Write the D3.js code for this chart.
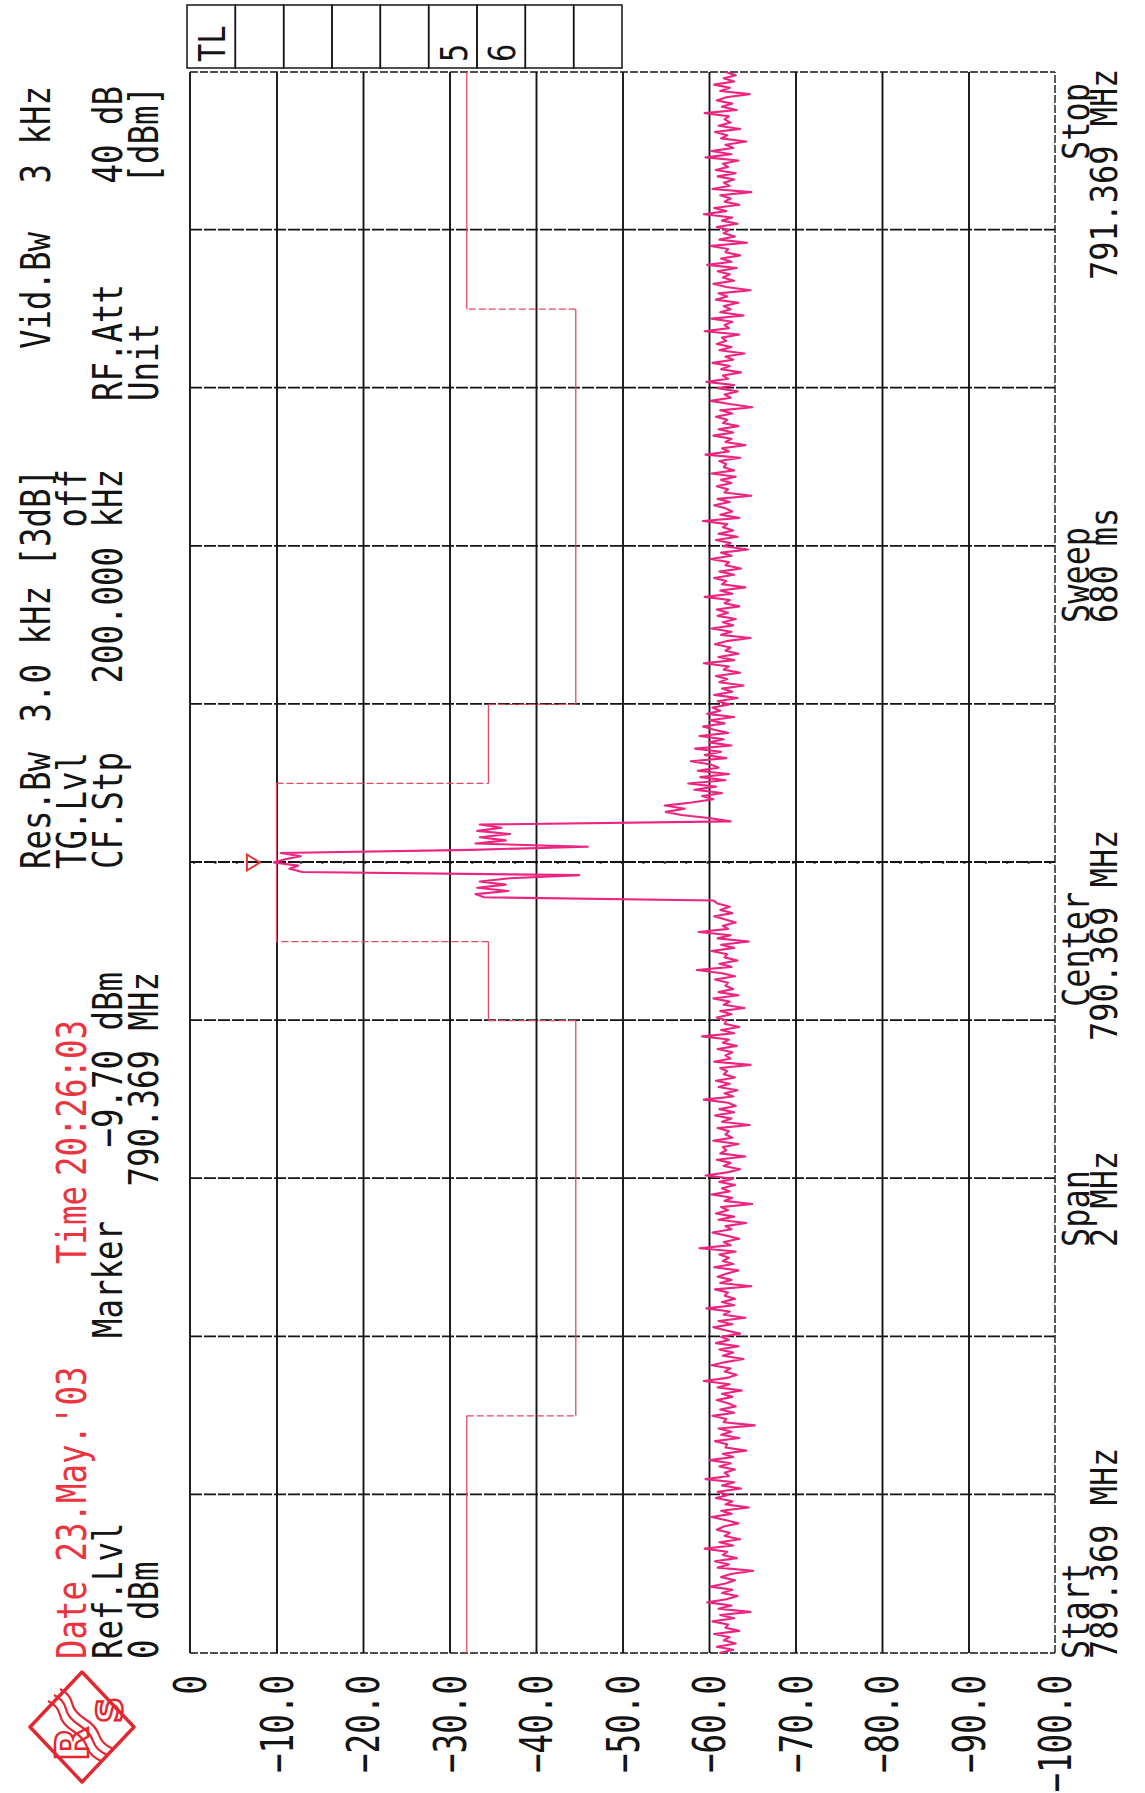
<!DOCTYPE html>
<html>
<head>
<meta charset="utf-8">
<script src="https://cdn.jsdelivr.net/npm/d3@7"></script>
<style>
  html, body { margin: 0; padding: 0; background: #ffffff; }
  svg { display: block; }
</style>
</head>
<body>
<svg id="chart" width="1145" height="1793"></svg>
<script>
// ---- analyzer settings ----
const startMHz = 789.369;
const stopMHz = 791.369;
const centerMHz = 790.369;
const freqDivisions = 10;

// ---- level axis ----
const levelTicks = [0, -10, -20, -30, -40, -50, -60, -70, -80, -90, -100];
const levelTickLabels = ["0", "\u221210.0", "\u221220.0", "\u221230.0", "\u221240.0", "\u221250.0",
  "\u221260.0", "\u221270.0", "\u221280.0", "\u221290.0", "\u2212100.0"];

// ---- limit line (step edges in MHz, level per step in dBm) ----
const limitEdgesMHz = [789.369, 789.669, 790.169, 790.269, 790.469, 790.569, 791.069, 791.369];
const limitDbm = [-32.0, -44.6, -34.5, -10.0, -34.5, -44.6, -32.0];

// ---- marker ----
const markerMHz = 790.369;
const markerDbm = -9.70;

// ---- trace, 501 sweep points in dBm ----
const traceDbm = [
  -61.2,-62.8,-60.9,-63.1,-61.7,-62.4,-60.6,-63.5,-61.9,-62.2,
  -60.4,-62.9,-61.3,-64.8,-61.1,-62.6,-59.8,-62.0,-63.3,-61.5,
  -62.7,-60.2,-61.9,-63.0,-61.4,-62.5,-65.1,-61.0,-62.3,-60.7,
  -63.2,-61.6,-62.1,-59.5,-62.8,-61.2,-63.6,-61.8,-62.4,-60.9,
  -61.7,-63.4,-62.0,-60.3,-62.6,-61.4,-64.6,-61.9,-62.7,-60.8,
  -62.2,-61.0,-63.7,-61.5,-62.9,-59.6,-62.3,-61.8,-63.0,-61.2,
  -62.5,-60.1,-62.8,-61.6,-64.3,-61.9,-62.1,-60.7,-63.5,-61.4,
  -62.6,-61.1,-65.3,-61.7,-62.0,-60.4,-62.9,-61.3,-63.1,-62.2,
  -60.9,-62.7,-61.5,-63.8,-61.0,-62.4,-59.4,-62.1,-63.2,-61.8,
  -62.5,-60.3,-61.9,-64.0,-61.6,-62.8,-61.2,-63.4,-60.8,-62.3,
  -61.4,-63.6,-62.0,-60.5,-62.7,-61.1,-64.2,-61.7,-62.4,-59.7,
  -62.9,-61.5,-63.0,-61.8,-62.2,-60.7,-64.9,-61.3,-62.6,-61.0,
  -62.1,-63.4,-60.6,-62.8,-61.6,-62.3,-61.2,-63.1,-58.9,-62.5,
  -61.7,-63.5,-62.0,-60.4,-62.6,-61.9,-64.3,-61.1,-62.9,-60.8,
  -62.2,-61.4,-65.0,-61.8,-62.7,-60.3,-62.4,-61.5,-63.0,-61.2,
  -62.8,-59.6,-62.1,-63.6,-61.7,-62.5,-60.9,-64.2,-61.3,-62.0,
  -61.6,-63.4,-60.5,-62.7,-61.9,-62.3,-61.0,-64.7,-61.5,-62.6,
  -60.7,-62.9,-61.2,-63.1,-62.2,-59.4,-62.8,-61.8,-63.3,-61.1,
  -62.4,-60.8,-63.0,-61.7,-62.1,-61.3,-64.8,-60.6,-62.5,-61.9,
  -62.7,-61.0,-63.2,-61.6,-62.3,-59.2,-62.9,-61.4,-63.5,-61.8,
  -62.0,-60.9,-62.6,-61.3,-64.1,-61.7,-62.4,-60.5,-63.4,-61.1,
  -62.8,-61.9,-62.2,-60.7,-63.0,-61.5,-58.6,-62.6,-61.2,-63.3,
  -61.8,-62.1,-60.3,-62.9,-61.4,-64.6,-61.0,-62.5,-58.8,-62.2,
  -61.6,-63.1,-61.9,-60.6,-62.7,-61.3,-62.4,-61.0,-60.5,
  -34.0,-33.0,-36.8,-33.2,-36.5,-33.5,-37.0,-45.0,
  -13.0,-11.5,-12.5,-9.70,-11.0,-12.8,-10.5,
  -32.5,-46.0,-33.0,-36.5,-33.5,-37.0,-33.2,-36.0,-33.5,
  -62.5,-60.2,-56.8,-55.0,-57.2,-54.9,-58.0,-60.5,
  -59.2,-61.5,-58.3,-60.8,-57.6,-61.9,-59.0,-62.3,-58.7,-61.1,
  -60.2,-57.9,-62.0,-59.5,-61.4,-58.4,-62.6,-60.0,-61.7,-58.9,
  -62.2,-60.6,-59.3,-61.8,-60.1,-62.9,-59.8,-61.3,-60.4,
  -62.4,-61.0,-63.3,-60.6,-62.7,-61.5,-64.0,-61.2,-62.1,-60.8,
  -63.6,-61.7,-62.3,-59.4,-62.9,-61.1,-63.4,-61.9,-62.5,-60.7,
  -62.0,-64.8,-61.4,-62.6,-60.3,-62.8,-61.6,-63.1,-61.0,-62.2,
  -60.9,-63.5,-61.8,-62.4,-59.5,-62.7,-61.3,-64.2,-61.5,-62.0,
  -60.6,-62.9,-61.2,-63.7,-61.9,-62.3,-60.2,-62.6,-61.4,-64.5,
  -61.7,-62.5,-60.8,-63.3,-61.1,-62.8,-61.6,-62.1,-59.3,-63.5,
  -61.3,-62.7,-61.9,-60.6,-62.4,-61.0,-64.9,-61.8,-62.2,-60.9,
  -62.6,-61.4,-63.1,-60.3,-62.9,-61.7,-62.0,-61.2,-63.6,-59.6,
  -62.3,-61.5,-64.2,-61.9,-62.6,-60.5,-62.8,-61.1,-63.4,-61.6,
  -62.1,-60.8,-62.7,-61.3,-65.0,-62.4,-60.2,-62.5,-61.8,-63.3,
  -61.0,-62.9,-59.7,-62.2,-61.6,-63.7,-61.4,-62.4,-60.4,-62.8,
  -61.9,-64.1,-61.2,-62.6,-60.9,-62.0,-61.5,-63.5,-59.5,-62.3,
  -61.8,-62.7,-60.3,-64.0,-61.3,-62.5,-61.7,-63.4,-60.8,-62.1,
  -61.1,-64.8,-62.0,-60.5,-62.9,-61.6,-62.4,-61.0,-63.2,-59.8,
  -62.6,-61.4,-63.6,-61.9,-62.2,-60.2,-64.4,-61.2,-63.0,-61.7,
  -62.3,-60.9,-63.3,-61.5,-62.7,-59.4,-62.0,-60.6,-63.5,-61.8,
  -62.5,-61.3,-64.9,-60.4,-62.4,-61.7,-62.9,-61.0,-63.1,-60.8,
  -62.2,-61.6,-63.4,-59.6,-62.6,-60.3,-62.8,-61.9,-64.3,-61.4,
  -62.1,-60.7,-63.6,-61.1,-62.5,-61.8,-62.3,-59.5,-63.2,-61.5,
  -62.7,-60.9,-62.0,-64.7,-61.3,-62.4,-60.6,-62.9,-61.7,-63.1,
  -61.9
];

// ---- header and footer annotation (row 0 is the outermost line) ----
const headerRed = [
  { text: "Date 23.May.'03", x: 134, row: 1 },
  { text: "Time", x: 529, row: 1 },
  { text: "20:26:03", x: 617, row: 1 }
];
const headerLeft = [
  { text: "Ref.Lvl", x: 134, row: 2 },
  { text: "0 dBm", x: 134, row: 3 },
  { text: "Marker", x: 455, row: 2 },
  { text: "Res.Bw", x: 924, row: 0 },
  { text: "TG.Lvl", x: 924, row: 1 },
  { text: "CF.Stp", x: 924, row: 2 },
  { text: "Vid.Bw", x: 1444, row: 0 },
  { text: "RF.Att", x: 1392, row: 2 },
  { text: "Unit", x: 1392, row: 3 }
];
const headerRight = [
  { text: "\u22129.70 dBm", x: 821, row: 2 },
  { text: "790.369 MHz", x: 821, row: 3 },
  { text: "3.0 kHz [3dB]", x: 1324, row: 0 },
  { text: "off", x: 1324, row: 1 },
  { text: "200.000 kHz", x: 1324, row: 2 },
  { text: "3 kHz", x: 1707, row: 0 },
  { text: "40 dB", x: 1707, row: 2 },
  { text: "[dBm]", x: 1707, row: 3 }
];
const footer = [
  { text: "Start", x: 134, row: 0 },
  { text: "789.369 MHz", x: 134, row: 1 },
  { text: "Span", x: 546, row: 0 },
  { text: "2 MHz", x: 546, row: 1 },
  { text: "Center", x: 786, row: 0 },
  { text: "790.369 MHz", x: 752, row: 1 },
  { text: "Sweep", x: 1170, row: 0 },
  { text: "680 ms", x: 1170, row: 1 },
  { text: "Stop", x: 1633, row: 0 },
  { text: "791.369 MHz", x: 1513, row: 1 }
];
const limitTableCells = ["TL", "", "", "", "", "5", "6", "", ""];

// ---- drawing ----
// The printout is laid out landscape and turned a quarter turn on the page.
const PAGE_H = 1793;
const svg = d3.select("#chart");
svg.append("rect").attr("width", 1145).attr("height", 1793).attr("fill", "#ffffff");
const page = svg.append("g").attr("transform", `translate(0,${PAGE_H}) rotate(-90)`);

const X0 = 140, X1 = 1721, Y0 = 190, Y1 = 1055;
const x = d3.scaleLinear().domain([startMHz, stopMHz]).range([X0, X1]);
const y = d3.scaleLinear().domain([0, -100]).range([Y0, Y1]);

const INK = "#141414";
const RED_TEXT = "#ec3440";
const TRACE = "#ec2580";
const LIMIT = "#e24a62";
const FONT = "'DejaVu Sans Mono', 'Liberation Mono', monospace";

function label(g, txt, px, py, opt) {
  const o = Object.assign({ size: 41, sx: 0.79, anchor: "start", fill: INK }, opt || {});
  g.append("text")
    .attr("transform", `translate(${px},${py}) scale(${o.sx},1)`)
    .attr("text-anchor", o.anchor)
    .attr("font-family", FONT)
    .attr("font-size", o.size)
    .attr("fill", o.fill)
    .text(txt);
}

// grid: level lines via an axis with full-width ticks
const levelGrid = page.append("g")
  .attr("transform", `translate(${X0},0)`)
  .call(d3.axisLeft(y).tickValues(levelTicks.slice(1, -1)).tickSize(-(X1 - X0)).tickFormat(""));
levelGrid.select(".domain").remove();
levelGrid.selectAll(".tick line").attr("stroke", INK).attr("stroke-width", 1.9);

// grid: frequency lines
const freqTicks = d3.range(1, freqDivisions).map(k => startMHz + k * (stopMHz - startMHz) / freqDivisions);
const freqGrid = page.append("g")
  .attr("transform", `translate(0,${Y0})`)
  .call(d3.axisBottom(x).tickValues(freqTicks).tickSize(Y1 - Y0).tickFormat(""));
freqGrid.select(".domain").remove();
freqGrid.selectAll(".tick line").attr("stroke", INK).attr("stroke-width", 1.8)
  .attr("stroke-dasharray", "12,2");

// frame
page.append("line").attr("x1", X0).attr("x2", X1).attr("y1", Y0).attr("y2", Y0)
  .attr("stroke", INK).attr("stroke-width", 1.9);
page.append("line").attr("x1", X0).attr("x2", X1).attr("y1", Y1).attr("y2", Y1)
  .attr("stroke", INK).attr("stroke-width", 1.4).attr("stroke-dasharray", "8,2");
[X0, X1].forEach(v => page.append("line").attr("x1", v).attr("x2", v).attr("y1", Y0).attr("y2", Y1)
  .attr("stroke", INK).attr("stroke-width", 1.5).attr("stroke-dasharray", "8,2"));

// level tick labels
levelTicks.forEach((t, i) => label(page, levelTickLabels[i], 118, y(t) + 16,
  { size: 44, sx: 0.74, anchor: "end" }));

// center frequency dotted line
page.append("line")
  .attr("x1", x(centerMHz)).attr("x2", x(centerMHz))
  .attr("y1", Y0 + 4).attr("y2", Y1)
  .attr("stroke", INK).attr("stroke-width", 2.6)
  .attr("stroke-linecap", "round")
  .attr("stroke-dasharray", "0.1,21.3");

// limit line: level steps solid, frequency edges dashed
const limitG = page.append("g").attr("fill", "none").attr("stroke", LIMIT).attr("stroke-width", 1.3);
limitDbm.forEach((lv, i) => {
  limitG.append("line")
    .attr("x1", x(limitEdgesMHz[i])).attr("x2", x(limitEdgesMHz[i + 1]))
    .attr("y1", y(lv)).attr("y2", y(lv));
  if (i > 0) {
    limitG.append("line")
      .attr("x1", x(limitEdgesMHz[i])).attr("x2", x(limitEdgesMHz[i]))
      .attr("y1", y(limitDbm[i - 1])).attr("y2", y(lv))
      .attr("stroke-dasharray", "7,3");
  }
});

// trace
const step = (stopMHz - startMHz) / (traceDbm.length - 1);
const traceLine = d3.line()
  .x((d, i) => x(startMHz + i * step))
  .y(d => y(d));
page.append("path")
  .datum(traceDbm)
  .attr("d", traceLine)
  .attr("fill", "none")
  .attr("stroke", TRACE)
  .attr("stroke-width", 2.1)
  .attr("stroke-linejoin", "round");

// marker symbol above the peak
const mx = x(markerMHz), my = y(markerDbm) - 14;
page.append("path")
  .attr("d", `M${mx - 8},${my - 13} L${mx + 8},${my - 13} L${mx},${my} Z`)
  .attr("fill", "none").attr("stroke", "#e2352f").attr("stroke-width", 2);

// header
const headRows = [50, 86, 122, 158];
headerRed.forEach(d => label(page, d.text, d.x, headRows[d.row], { fill: RED_TEXT }));
headerLeft.forEach(d => label(page, d.text, d.x, headRows[d.row]));
headerRight.forEach(d => label(page, d.text, d.x, headRows[d.row], { anchor: "end" }));

// footer
const footRows = [1089, 1117];
footer.forEach(d => label(page, d.text, d.x, footRows[d.row], { size: 38, sx: 0.84 }));

// limit table beside the diagram
const tblX = 1725, tblW = 63, tblY = 187, cellH = (622 - 187) / limitTableCells.length;
const tbl = page.append("g");
limitTableCells.forEach((c, i) => {
  tbl.append("rect")
    .attr("x", tblX).attr("y", tblY + i * cellH)
    .attr("width", tblW).attr("height", cellH)
    .attr("fill", "none").attr("stroke", INK).attr("stroke-width", 1.5);
  if (c) label(tbl, c, tblX + 6, tblY + i * cellH + 38, { size: 38, sx: 0.8 });
});

// maker logo
const logo = page.append("g").attr("transform", "translate(66,82)");
const LOGO_RED = "#e4262f";
logo.append("path").attr("d", "M0,-52 L55,0 L0,52 L-55,0 Z")
  .attr("fill", "none").attr("stroke", LOGO_RED).attr("stroke-width", 3.4)
  .attr("stroke-linejoin", "round");
[-6, 0, 6].forEach(o => {
  logo.append("path")
    .attr("d", `M${32 + o},${-28 + o} q-5,10 -14,12 t-16,13 t-16,14 t-14,14`)
    .attr("fill", "none").attr("stroke", LOGO_RED).attr("stroke-width", 2.2);
});
logo.append("text").attr("x", -17).attr("y", 6).attr("text-anchor", "middle")
  .attr("font-family", "'DejaVu Sans', sans-serif").attr("font-weight", "bold")
  .attr("font-size", 44).attr("fill", "none").attr("stroke", LOGO_RED).attr("stroke-width", 2.4)
  .text("R");
logo.append("text").attr("x", 17).attr("y", 40).attr("text-anchor", "middle")
  .attr("font-family", "'DejaVu Sans', sans-serif").attr("font-weight", "bold")
  .attr("font-size", 36).attr("fill", "none").attr("stroke", LOGO_RED).attr("stroke-width", 2.4)
  .text("S");
</script>
</body>
</html>
